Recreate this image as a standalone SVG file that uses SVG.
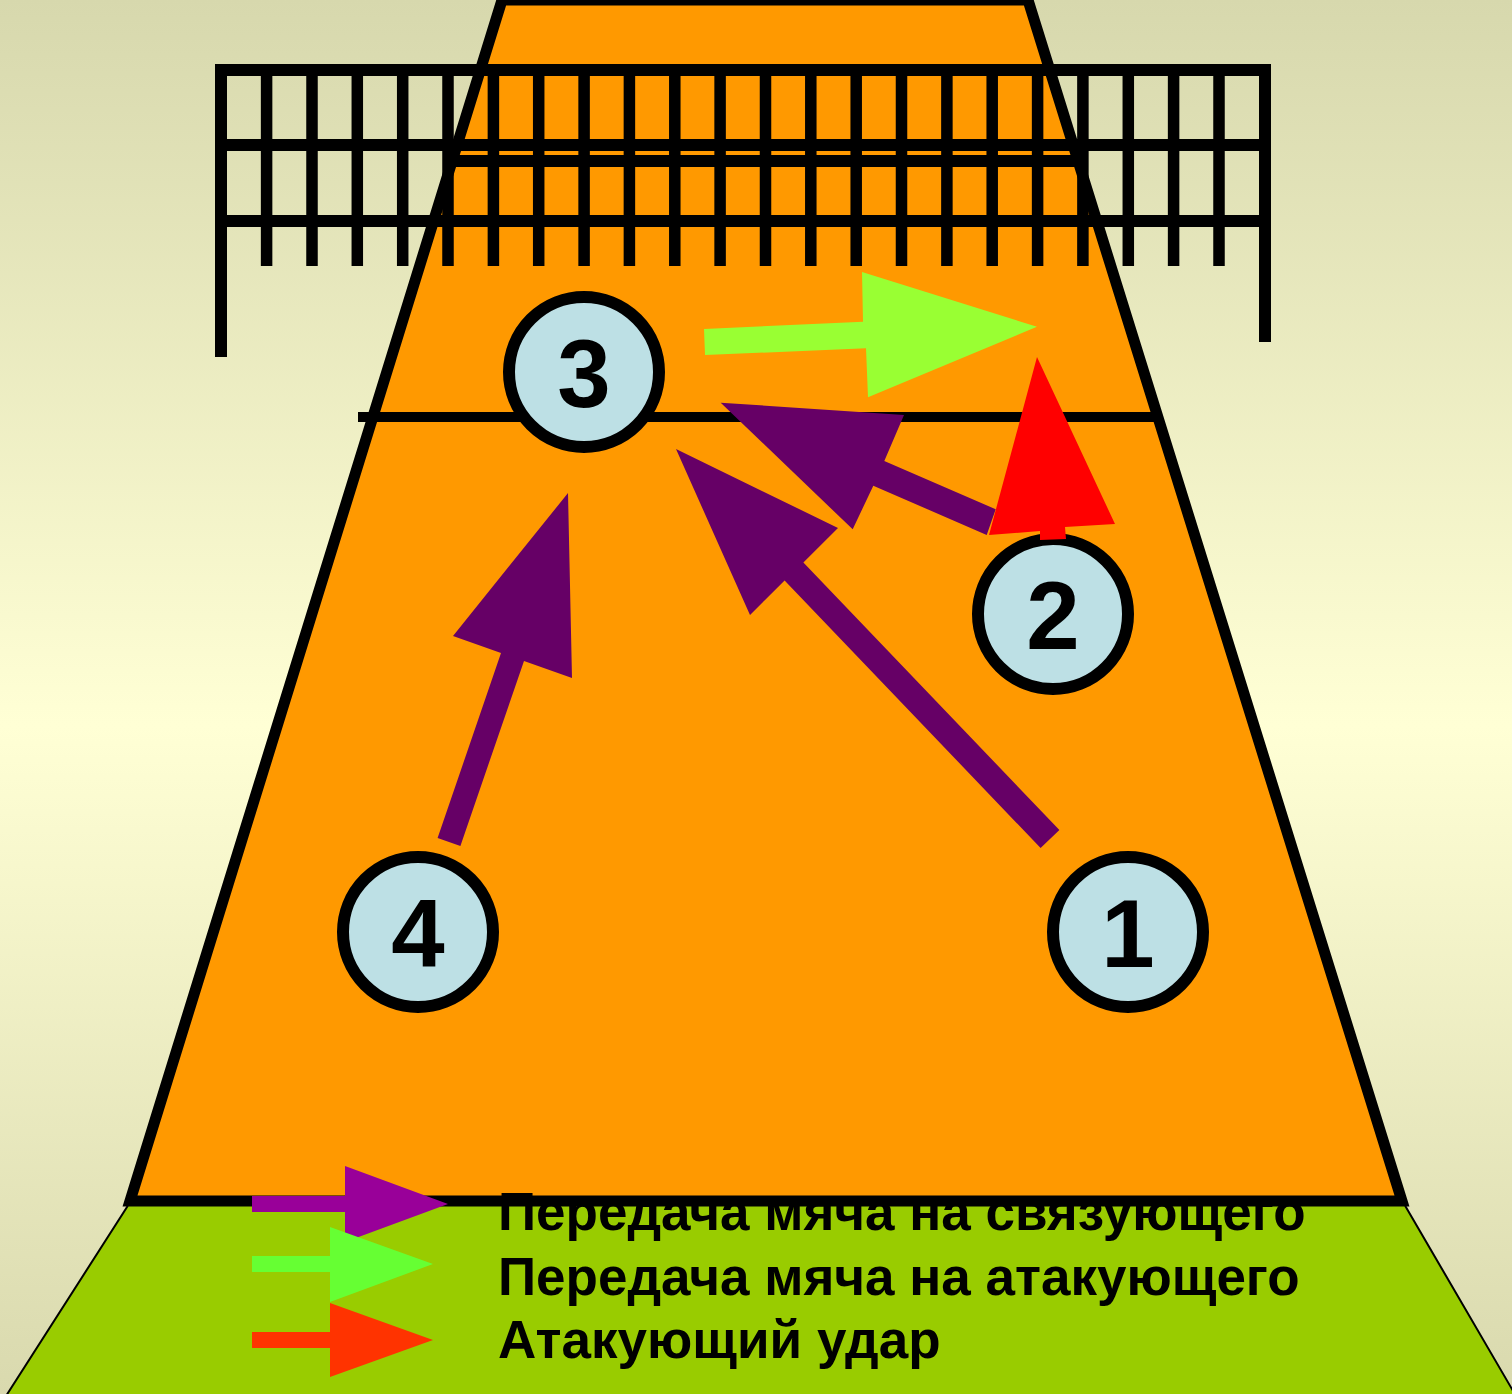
<svg xmlns="http://www.w3.org/2000/svg" width="1512" height="1394" viewBox="0 0 1512 1394">
<defs>
<linearGradient id="bg" x1="0" y1="0" x2="0" y2="1">
<stop offset="0" stop-color="#d7d8ad"/>
<stop offset="0.52" stop-color="#ffffd5"/>
<stop offset="1" stop-color="#d9d9ae"/>
</linearGradient>
<style>
.net{stroke:#000;stroke-width:12;fill:none}
.str{stroke:#000;stroke-width:11.5;fill:none}
.pl circle{fill:#bde0e5;stroke:#000;stroke-width:12}
.pl text{font-family:"Liberation Sans",Arial,sans-serif;font-weight:bold;font-size:96px;text-anchor:middle;fill:#000}
.lg{font-family:"Liberation Sans",Arial,sans-serif;font-weight:bold;font-size:53px;fill:#000}
</style>
</defs>
<rect x="0" y="0" width="1512" height="1394" fill="url(#bg)"/>
<g id="court">
<polygon points="502,0 1028,0 1402,1201 130,1201" fill="#ff9900" stroke="#000" stroke-width="11"/>
<line x1="358" y1="417" x2="1160" y2="417" stroke="#000" stroke-width="10"/>
<line x1="452" y1="161" x2="1078" y2="161" stroke="#000" stroke-width="12"/>
</g>
<g id="floor">
<polygon points="128,1205.5 1405,1205.5 1516,1396 6,1396" fill="#99cc00" stroke="#000" stroke-width="2"/>
</g>
<g id="net">
<line class="net" x1="221" y1="70" x2="1265" y2="70"/>
<line class="net" x1="221" y1="145" x2="1265" y2="145"/>
<line class="net" x1="221" y1="221" x2="1265" y2="221"/>
<line class="net" x1="221" y1="64" x2="221" y2="357"/>
<line class="net" x1="1265" y1="64" x2="1265" y2="342"/>
<path class="str" d="M266.6 70V266M312 70V266M357.3 70V266M402.7 70V266M448 70V266M493.4 70V266M538.7 70V266M584.1 70V266M629.4 70V266M674.8 70V266M720.1 70V266M765.5 70V266M810.8 70V266M856.2 70V266M901.5 70V266M946.9 70V266M992.2 70V266M1037.6 70V266M1082.9 70V266M1128.3 70V266M1173.6 70V266M1219 70V266"/>
</g>
<g id="player-3" class="pl"><circle cx="584" cy="372" r="75"/><text x="584" y="407">3</text></g>
<g id="player-2" class="pl"><circle cx="1053" cy="614" r="75"/><text x="1053" y="649">2</text></g>
<g id="player-4" class="pl"><circle cx="418" cy="932" r="75"/><text x="418" y="967">4</text></g>
<g id="player-1" class="pl"><circle cx="1128" cy="932" r="75"/><text x="1128" y="967">1</text></g>
<g id="connectors">
<polygon id="a4-3" fill="#660066" points="437.6,838.1 460.4,845.9 524,661 572,678 568,493 453,636 501,653"/>
<polygon id="a1-3" fill="#660066" points="1059.4,830 1040.6,848 784.6,580.5 750,615 676,449 838,528 803.4,562.5"/>
<polygon id="a2-3" fill="#660066" points="995.7,509.3 986.7,535 873.3,485.7 852.7,529.3 720.7,402.7 904,415 884.3,461"/>
<polygon id="a-attack" fill="#ff0000" points="1037,357 1115,524 1065,527 1066,539 1040,540 1040,531 989,535"/>
<polygon id="a3-attack" fill="#99ff33" points="704,329 863,321.7 862,272 1037,326.7 868,397.3 866,348.3 705,355"/>
</g>
<g id="legend">
<polygon fill="#990099" points="252,1196 345,1196 345,1166 448,1204 345,1242 345,1212 252,1212"/>
<polygon fill="#66ff33" points="252,1256 330,1256 330,1227 433,1264 330,1302 330,1272 252,1272"/>
<polygon fill="#ff3300" points="252,1332 330,1332 330,1303 433,1340 330,1377 330,1348 252,1348"/>
<text class="lg" x="498" y="1230">Передача мяча на связующего</text>
<text class="lg" x="498" y="1295">Передача мяча на атакующего</text>
<text class="lg" x="498" y="1358">Атакующий удар</text>
</g>
</svg>
